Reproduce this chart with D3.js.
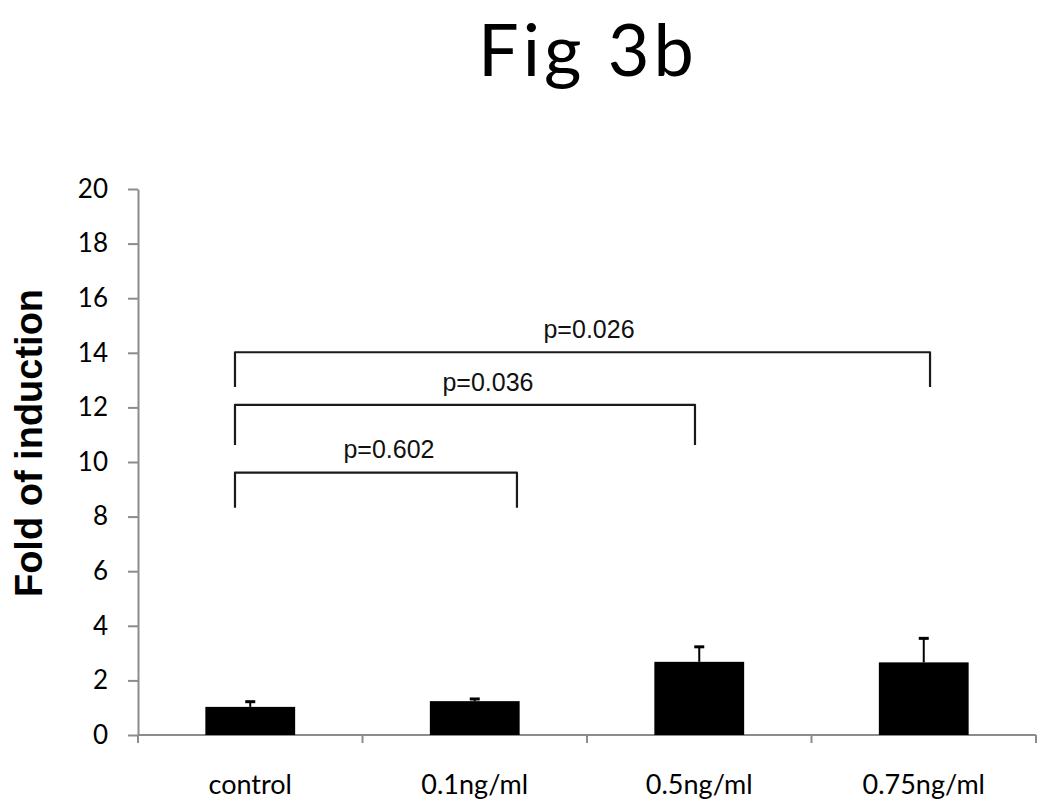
<!DOCTYPE html>
<html>
<head>
<meta charset="utf-8">
<script src="https://cdn.jsdelivr.net/npm/d3@7"></script>
<style>
  html, body { margin: 0; padding: 0; background: #fff; }
  svg { display: block; }
</style>
</head>
<body>
<svg id="chart" width="1050" height="810"></svg>
<script>
// ---- data ----
const categories = ["control", "0.1ng/ml", "0.5ng/ml", "0.75ng/ml"];
const means = [1.03, 1.24, 2.68, 2.66];
const errors = [0.19, 0.08, 0.55, 0.88];
const yTicks = [0, 2, 4, 6, 8, 10, 12, 14, 16, 18, 20];
const title = "Fig 3b";
const yTitle = "Fold of induction";
// significance brackets: x in category-index units, y in data units
const bracketLabels = ["p=0.602", "p=0.036", "p=0.026"];
const bracketX1 = [-0.068, -0.068, -0.068];
const bracketX2 = [1.188, 1.981, 3.028];
const bracketTop = [9.61, 12.09, 14.02];
const bracketFoot = [8.32, 10.62, 12.75];
const labelX = [0.618, 1.059, 1.509];
const labelY = [10.15, 12.6, 14.54];

// ---- layout ----
const svg = d3.select("#chart");
const margin = { left: 138, top: 189, right: 14, bottom: 75 };
const W = 1050 - margin.left - margin.right;   // 898
const H = 810 - margin.top - margin.bottom;    // 546
const g = svg.append("g").attr("transform", `translate(${margin.left},${margin.top})`);

const x = d3.scaleBand().domain(categories).range([0, W]).paddingInner(0.6).paddingOuter(0.3);
const xi = d3.scaleLinear().domain([-0.5, categories.length - 0.5]).range([0, W]);
const y = d3.scaleLinear().domain([0, 20]).range([H, 0]);

const axisColor = "#8c8c8c";
const axisFont = "Lato, 'Open Sans', sans-serif";

// title
svg.append("text")
  .attr("x", 588).attr("y", 76)
  .attr("text-anchor", "middle")
  .style("font-family", axisFont)
  .style("font-size", "72px")
  .style("letter-spacing", "4px")
  .attr("fill", "#000")
  .text(title);

// y axis
const yAxis = g.append("g").call(d3.axisLeft(y).tickValues(yTicks).tickSize(10).tickSizeOuter(0));
yAxis.select(".domain").attr("stroke", axisColor).attr("stroke-width", 2);
yAxis.selectAll(".tick line").attr("stroke", axisColor).attr("stroke-width", 2);
yAxis.selectAll(".tick text")
  .attr("x", -30)
  .style("font-family", axisFont)
  .style("font-size", "26px")
  .attr("fill", "#000");
// extend y axis slightly below zero
g.append("line").attr("x1", 0).attr("x2", 0).attr("y1", H).attr("y2", H + 8)
  .attr("stroke", axisColor).attr("stroke-width", 2);

// x axis baseline + category-boundary ticks
const xAxisG = g.append("g").attr("transform", `translate(0,${H})`);
xAxisG.append("line").attr("x1", 0).attr("x2", W).attr("y1", 0).attr("y2", 0)
  .attr("stroke", axisColor).attr("stroke-width", 2);
const bounds = d3.range(categories.length + 1).map(i => xi(i - 0.5));
xAxisG.selectAll("line.tk").data(bounds).join("line").attr("class", "tk")
  .attr("x1", d => d).attr("x2", d => d).attr("y1", 0).attr("y2", 8)
  .attr("stroke", axisColor).attr("stroke-width", 2);
xAxisG.selectAll("text.cat").data(categories).join("text").attr("class", "cat")
  .attr("x", d => x(d) + x.bandwidth() / 2)
  .attr("y", 59)
  .attr("text-anchor", "middle")
  .style("font-family", axisFont)
  .style("font-size", "27px")
  .attr("fill", "#000")
  .text(d => d);

// bars
g.selectAll("rect.bar").data(categories).join("rect").attr("class", "bar")
  .attr("x", d => x(d))
  .attr("width", x.bandwidth())
  .attr("y", (d, i) => y(means[i]))
  .attr("height", (d, i) => y(0) - y(means[i]))
  .attr("fill", "#000");

// error bars (upper only)
const capW = 10;
g.selectAll("line.err").data(categories).join("line").attr("class", "err")
  .attr("x1", d => x(d) + x.bandwidth() / 2).attr("x2", d => x(d) + x.bandwidth() / 2)
  .attr("y1", (d, i) => y(means[i])).attr("y2", (d, i) => y(means[i] + errors[i]))
  .attr("stroke", "#000").attr("stroke-width", 2);
g.selectAll("line.cap").data(categories).join("line").attr("class", "cap")
  .attr("x1", d => x(d) + x.bandwidth() / 2 - capW / 2).attr("x2", d => x(d) + x.bandwidth() / 2 + capW / 2)
  .attr("y1", (d, i) => y(means[i] + errors[i])).attr("y2", (d, i) => y(means[i] + errors[i]))
  .attr("stroke", "#000").attr("stroke-width", 3);

// significance brackets
const brG = g.append("g");
bracketLabels.forEach((lab, i) => {
  const path = d3.path();
  path.moveTo(xi(bracketX1[i]), y(bracketFoot[i]));
  path.lineTo(xi(bracketX1[i]), y(bracketTop[i]));
  path.lineTo(xi(bracketX2[i]), y(bracketTop[i]));
  path.lineTo(xi(bracketX2[i]), y(bracketFoot[i]));
  brG.append("path").attr("d", path.toString())
    .attr("fill", "none").attr("stroke", "#1a1a1a").attr("stroke-width", 2.2)
    .attr("stroke-linejoin", "round");
  brG.append("text")
    .attr("x", xi(labelX[i])).attr("y", y(labelY[i]))
    .attr("text-anchor", "middle")
    .style("font-family", "'Liberation Sans', Arial, sans-serif")
    .style("font-size", "25px")
    .attr("fill", "#111")
    .text(lab);
});

// y title
svg.append("text")
  .attr("transform", "translate(42,443) rotate(-90)")
  .attr("text-anchor", "middle")
  .style("font-family", "'Liberation Sans', Arial, sans-serif")
  .style("font-weight", "bold")
  .style("font-size", "38px")
  .attr("fill", "#000")
  .text(yTitle);
</script>
</body>
</html>
